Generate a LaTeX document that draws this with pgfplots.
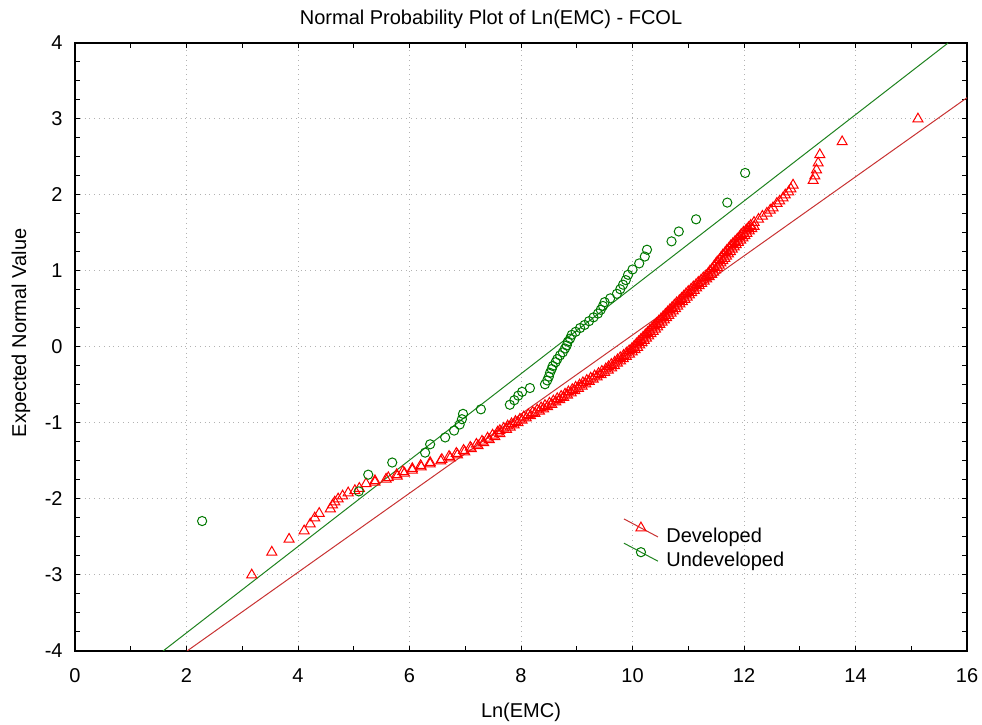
\documentclass[border=0pt]{standalone}
\usepackage{pgfplots}
\pgfplotsset{compat=1.18}
\usepackage{fontspec}
\setmainfont{Liberation Sans}
\definecolor{devred}{RGB}{255,0,0}
\definecolor{devline}{RGB}{200,50,50}
\definecolor{undgreen}{RGB}{0,120,0}
\definecolor{undline}{RGB}{30,130,30}
\pgfplotstableread{
x y
3.17 -3.00
3.53 -2.70
3.84 -2.53
4.11 -2.42
4.22 -2.33
4.30 -2.25
4.38 -2.19
4.58 -2.13
4.62 -2.08
4.66 -2.04
4.72 -2.00
4.80 -1.96
4.90 -1.92
5.02 -1.89
5.10 -1.86
5.22 -1.80
5.38 -1.76
5.62 -1.72
5.77 -1.68
5.88 -1.64
6.05 -1.60
6.20 -1.56
6.37 -1.52
6.58 -1.48
6.71 -1.44
6.84 -1.40
6.97 -1.36
7.09 -1.32
7.20 -1.28
7.30 -1.24
7.40 -1.20
7.49 -1.16
7.58 -1.12
7.62 -1.10
7.69 -1.07
7.76 -1.04
7.83 -1.01
7.90 -0.98
7.98 -0.95
8.05 -0.92
8.13 -0.89
8.21 -0.86
8.29 -0.83
8.36 -0.80
8.43 -0.77
8.51 -0.74
8.58 -0.71
8.65 -0.68
8.72 -0.65
8.79 -0.62
8.85 -0.59
8.92 -0.56
8.98 -0.53
9.05 -0.50
9.11 -0.47
9.18 -0.44
9.25 -0.41
9.32 -0.38
9.39 -0.35
9.45 -0.32
9.52 -0.29
9.57 -0.26
9.62 -0.23
9.68 -0.20
9.73 -0.17
9.78 -0.14
9.84 -0.11
9.89 -0.08
9.94 -0.05
9.99 -0.02
10.03 0.01
10.07 0.04
10.11 0.07
10.15 0.10
10.19 0.13
10.23 0.16
10.27 0.19
10.31 0.22
10.35 0.25
10.39 0.28
10.43 0.31
10.47 0.34
10.51 0.37
10.55 0.40
10.59 0.43
10.63 0.46
10.67 0.49
10.71 0.52
10.75 0.55
10.79 0.58
10.84 0.61
10.88 0.64
10.92 0.67
10.96 0.70
11.00 0.73
11.05 0.76
11.09 0.79
11.14 0.82
11.18 0.85
11.23 0.88
11.27 0.91
11.32 0.94
11.36 0.97
11.39 1.00
11.43 1.03
11.46 1.06
11.49 1.09
11.52 1.12
11.56 1.15
11.59 1.18
11.62 1.21
11.66 1.24
11.69 1.27
11.73 1.30
11.76 1.33
11.80 1.36
11.84 1.39
11.88 1.42
11.92 1.45
11.95 1.48
11.99 1.51
12.04 1.54
12.08 1.57
12.12 1.60
12.18 1.64
12.26 1.68
12.33 1.72
12.41 1.76
12.47 1.80
12.52 1.83
12.59 1.89
12.64 1.92
12.70 1.96
12.74 2.00
12.80 2.04
12.84 2.08
12.88 2.13
13.24 2.19
13.27 2.25
13.30 2.33
13.33 2.42
13.36 2.53
13.76 2.70
15.12 3.00
}\developed
\pgfplotstableread{
x y
5.38 -1.78
5.58 -1.74
5.78 -1.70
5.91 -1.66
6.05 -1.62
6.21 -1.58
6.37 -1.54
6.56 -1.50
6.73 -1.46
6.86 -1.42
6.99 -1.38
7.11 -1.34
7.23 -1.30
7.33 -1.26
7.43 -1.22
7.53 -1.18
7.62 -1.14
7.74 -1.085
7.805 -1.055
7.875 -1.025
7.945 -0.995
8.02 -0.965
8.095 -0.935
8.17 -0.905
8.25 -0.875
8.33 -0.845
8.405 -0.815
8.475 -0.785
8.55 -0.755
8.625 -0.725
8.695 -0.695
8.765 -0.665
8.835 -0.635
8.90 -0.605
8.965 -0.575
9.03 -0.545
9.095 -0.515
9.16 -0.485
9.225 -0.455
9.295 -0.425
9.365 -0.395
9.435 -0.365
9.50 -0.335
9.565 -0.305
9.625 -0.275
9.675 -0.245
9.73 -0.215
9.785 -0.185
9.835 -0.155
9.89 -0.125
9.945 -0.095
9.995 -0.065
10.045 -0.035
10.09 -0.005
10.13 0.025
10.17 0.055
10.21 0.085
10.25 0.115
10.29 0.145
10.33 0.175
10.37 0.205
10.41 0.235
10.45 0.265
10.49 0.295
10.53 0.325
10.57 0.355
10.61 0.385
10.65 0.415
10.69 0.445
10.73 0.475
10.77 0.505
10.81 0.535
10.85 0.565
10.895 0.595
10.94 0.625
10.98 0.655
11.02 0.685
11.06 0.715
11.105 0.745
11.15 0.775
11.195 0.805
11.24 0.835
11.285 0.865
11.33 0.895
11.375 0.925
11.42 0.955
11.455 0.985
11.49 1.015
11.525 1.045
11.555 1.075
11.585 1.105
11.62 1.135
11.655 1.165
11.685 1.195
11.72 1.225
11.755 1.255
11.79 1.285
11.825 1.315
11.86 1.345
11.90 1.375
11.94 1.405
11.98 1.435
12.015 1.465
12.05 1.495
12.095 1.525
12.14 1.555
12.18 1.585
}\developedmid
\pgfplotstableread{
x y
2.28 -2.29
5.09 -1.90
5.26 -1.68
5.69 -1.52
6.28 -1.39
6.37 -1.28
6.64 -1.19
6.80 -1.10
6.90 -1.02
6.94 -0.95
6.96 -0.88
7.28 -0.82
7.80 -0.76
7.88 -0.70
7.95 -0.64
8.02 -0.59
8.16 -0.54
8.43 -0.49
8.47 -0.44
8.50 -0.39
8.52 -0.34
8.55 -0.29
8.57 -0.25
8.62 -0.20
8.65 -0.16
8.70 -0.11
8.75 -0.07
8.79 -0.02
8.82 0.02
8.84 0.07
8.88 0.11
8.91 0.16
8.98 0.20
9.06 0.25
9.14 0.29
9.22 0.34
9.30 0.39
9.38 0.44
9.43 0.49
9.47 0.54
9.50 0.59
9.60 0.64
9.72 0.70
9.78 0.76
9.83 0.82
9.88 0.88
9.92 0.95
10.00 1.02
10.12 1.10
10.22 1.19
10.26 1.28
10.70 1.39
10.83 1.52
11.14 1.68
11.70 1.90
12.02 2.29
}\undeveloped
\begin{document}
\begin{tikzpicture}
\begin{axis}[
  scale only axis, width=446pt, height=304pt,
  xmin=0, xmax=16, ymin=-4, ymax=4,
  xtick={0,2,...,16}, ytick={-4,-3,...,4},
  minor x tick num=1, minor y tick num=3,
  tick align=inside,
  major tick length=2.5pt, minor tick length=2.5pt,
  every tick/.style={black, line width=0.5pt},
  grid=major,
  major grid style={gray!60, dotted, line width=0.5pt},
  axis line style={black, line width=0.6pt},
  /pgf/number format/assume math mode=true,
  ticklabel style={font=\fontsize{10}{12}\selectfont},
  xticklabel style={anchor=base, yshift=-16pt},
  yticklabel style={anchor=east, inner sep=0pt, xshift=-6pt},
  xlabel={Ln(EMC)},
  xlabel style={at={(axis description cs:0.5,0)}, anchor=base, yshift=-33.5pt, inner sep=0pt, font=\fontsize{10}{12}\selectfont},
  ylabel={Expected Normal Value},
  ylabel style={at={(axis description cs:-0.0549,0.523)}, anchor=base, inner sep=0pt, font=\fontsize{10}{12}\selectfont},
  legend style={at={(axis description cs:0.6144,0.2187)}, anchor=north west, draw=none, fill=none, inner sep=0pt, nodes={inner sep=1pt}, row sep=-2.5pt, font=\fontsize{10}{12}\selectfont},
  legend cell align=left,
  clip mode=individual,
]
\addplot[devline, line width=0.5pt, forget plot] coordinates {(2.01,-4) (16,3.28)};
\addplot[undline, line width=0.5pt, forget plot] coordinates {(1.58,-4) (15.66,4)};
\addplot[only marks, mark=triangle, mark size=2.9pt, devred, mark options={line width=0.5pt}, forget plot] table {\developedmid};
\addplot[only marks, mark=triangle, mark size=2.9pt, devred, mark options={line width=0.5pt},
  legend image code/.code={
    \draw[devline, line width=0.5pt] (0pt,9pt) -- (17pt,0pt);
    \path (20pt,0pt);
    \draw[devred, line width=0.5pt, mark=triangle, mark size=2.9pt] plot coordinates {(8.5pt,4.5pt)};
  }] table {\developed};
\addlegendentry{Developed}
\addplot[only marks, mark=o, mark size=2.3pt, undgreen, mark options={line width=0.5pt},
  legend image code/.code={
    \draw[undline, line width=0.5pt] (0pt,9pt) -- (17pt,0pt);
    \path (20pt,0pt);
    \draw[undgreen, line width=0.5pt, mark=o, mark size=2.3pt] plot coordinates {(8.5pt,4.5pt)};
  }] table {\undeveloped};
\addlegendentry{Undeveloped}
\node[anchor=base, inner sep=0pt, yshift=9pt, font=\fontsize{10}{12}\selectfont] at (axis description cs:0.4664,1) {Normal Probability Plot of Ln(EMC) - FCOL};
\end{axis}
\path (current axis.south west) ++(-37.5pt,-37pt) coordinate (bl);
\path (current axis.north east) ++(7.5pt,21.5pt) coordinate (tr);
\pgfresetboundingbox
\path[use as bounding box] (bl) rectangle (tr);
\end{tikzpicture}
\end{document}
